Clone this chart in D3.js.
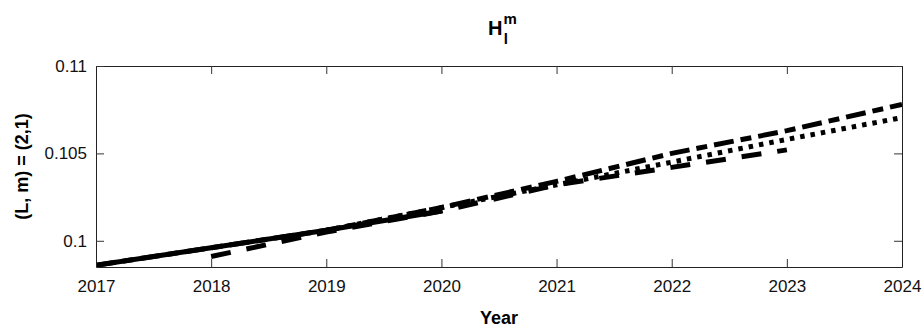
<!DOCTYPE html>
<html>
<head>
<meta charset="utf-8">
<script src="https://cdn.jsdelivr.net/npm/d3@7"></script>
<style>
  body { margin: 0; background: #fff; }
  text { font-family: "Liberation Sans", Arial, sans-serif; }
</style>
</head>
<body>
<div id="chart"></div>
<script>
// values
const solidYears = [2017, 2018, 2019, 2020];
const solidVals = [0.0986, 0.0996, 0.1006, 0.1017];

const dashYears = [2018, 2019, 2020, 2021, 2022, 2023];
const dashVals = [0.0991, 0.1005, 0.1017, 0.1032, 0.1042, 0.1052];

const dotYears = [2019, 2020, 2021, 2022, 2023, 2024];
const dotVals = [0.1006, 0.1019, 0.1032, 0.1045, 0.1058, 0.10705];

const dashDotYears = [2017, 2018, 2019, 2020, 2021, 2022, 2023, 2024];
const dashDotVals = [0.0986, 0.0996, 0.1006, 0.1019, 0.1034, 0.1050, 0.1063, 0.1078];

const xTicks = [2017, 2018, 2019, 2020, 2021, 2022, 2023, 2024];
const yTicks = [0.1, 0.105, 0.11];
const yTickLabels = ["0.1", "0.105", "0.11"];

const width = 924, height = 336;
const margin = { top: 66, right: 22, bottom: 69, left: 96 };
const innerW = width - margin.left - margin.right;
const innerH = height - margin.top - margin.bottom;

const svg = d3.select("#chart").append("svg")
    .attr("width", width)
    .attr("height", height);

const x = d3.scaleLinear().domain([2017, 2024]).range([0, innerW]);
const y = d3.scaleLinear().domain([0.0985, 0.11]).range([innerH, 0]);

const g = svg.append("g").attr("transform", `translate(${margin.left},${margin.top})`);

const defs = svg.append("defs");
defs.append("clipPath").attr("id", "clip")
  .append("rect").attr("width", innerW).attr("height", innerH);

const line = d3.line().x(d => x(d[0])).y(d => y(d[1]));

const series = [
  { years: solidYears, vals: solidVals, dash: null },
  { years: dashYears, vals: dashVals, dash: "20,16" },
  { years: dotYears, vals: dotVals, dash: "4.5,6" },
  { years: dashDotYears, vals: dashDotVals, dash: "20,7,11,7" }
];

const lines = g.append("g").attr("clip-path", "url(#clip)");
series.forEach(s => {
  lines.append("path")
    .datum(d3.zip(s.years, s.vals))
    .attr("d", line)
    .attr("fill", "none")
    .attr("stroke", "#000")
    .attr("stroke-width", 5)
    .attr("stroke-dasharray", s.dash);
});

// axes with inward ticks, box style
const xAxis = g.append("g").attr("transform", `translate(0,${innerH})`)
  .call(d3.axisBottom(x).tickValues(xTicks).tickFormat(d3.format("d")).tickSizeInner(-8).tickSizeOuter(0).tickPadding(13));
const xTop = g.append("g")
  .call(d3.axisTop(x).tickValues(xTicks).tickFormat("").tickSizeInner(-8).tickSizeOuter(0));
const yAxis = g.append("g")
  .call(d3.axisLeft(y).tickValues(yTicks).tickFormat((d, i) => yTickLabels[i]).tickSizeInner(-8).tickSizeOuter(0).tickPadding(9));
const yRight = g.append("g").attr("transform", `translate(${innerW},0)`)
  .call(d3.axisRight(y).tickValues(yTicks).tickFormat("").tickSizeInner(-8).tickSizeOuter(0));

[xAxis, xTop, yAxis, yRight].forEach(a => {
  a.select(".domain").attr("stroke", "#222").attr("stroke-width", 1);
  a.selectAll(".tick line").attr("stroke", "#333").attr("stroke-width", 1);
  a.selectAll(".tick text").attr("font-size", 17).attr("fill", "#111")
    .style("font-family", "'Liberation Sans', Arial, sans-serif");
});

// labels
svg.append("text")
  .attr("x", margin.left + innerW / 2).attr("y", 324)
  .attr("text-anchor", "middle")
  .attr("font-size", 18).attr("font-weight", "bold")
  .text("Year");

svg.append("text")
  .attr("transform", `translate(28,${margin.top + innerH / 2}) rotate(-90)`)
  .attr("text-anchor", "middle")
  .attr("font-size", 18).attr("font-weight", "bold")
  .text("(L, m) = (2,1)");

const title = svg.append("text")
  .attr("x", 488).attr("y", 35)
  .attr("font-size", 20).attr("font-weight", "bold");
title.append("tspan").text("H");
title.append("tspan").attr("dx", 1).attr("dy", -11).attr("font-size", 15).text("m");
title.append("tspan").attr("dx", -13).attr("dy", 20).attr("font-size", 15).text("l");
</script>
</body>
</html>
